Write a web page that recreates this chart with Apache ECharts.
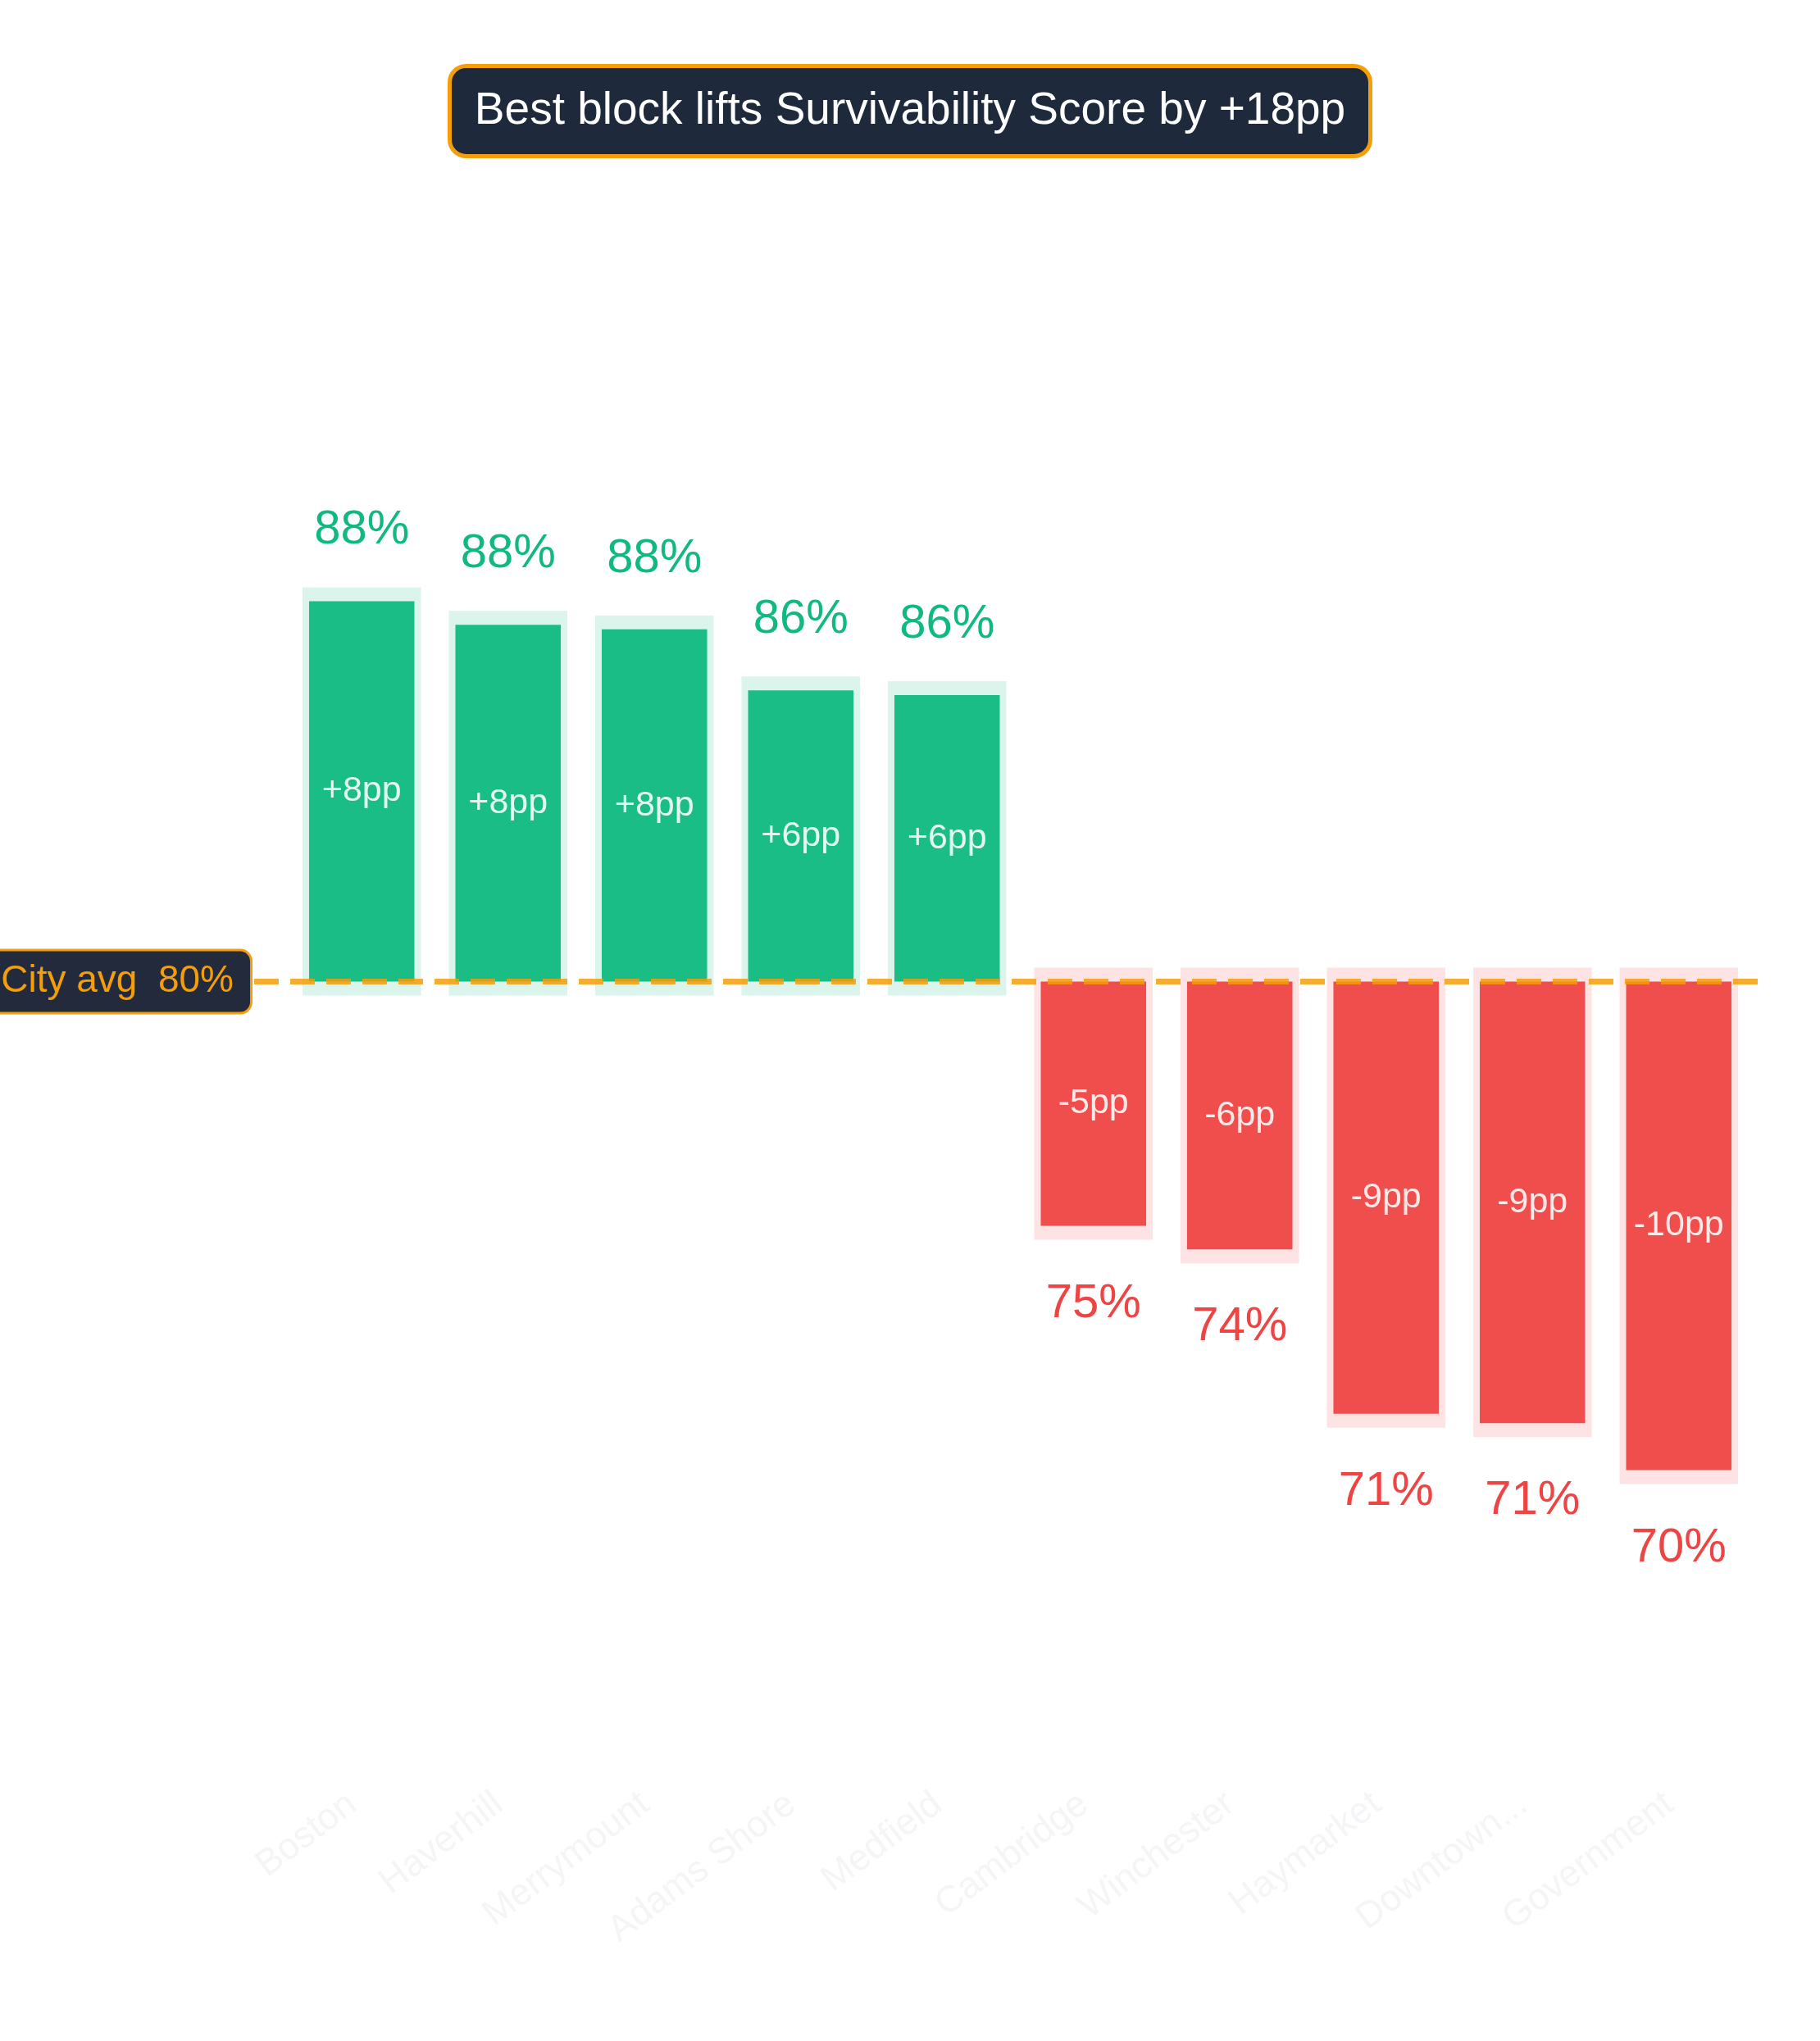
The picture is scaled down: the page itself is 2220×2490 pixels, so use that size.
<!DOCTYPE html>
<html>
<head>
<meta charset="utf-8">
<script src="https://cdn.jsdelivr.net/npm/echarts@6/dist/echarts.min.js"></script>
<style>
  html, body { margin: 0; padding: 0; background: #ffffff; }
  #chart { width: 2220px; height: 2490px; }
</style>
</head>
<body>
<div id="chart"></div>
<script>
// data
const blocks = ['Boston', 'Haverhill', 'Merrymount', 'Adams Shore', 'Medfield',
  'Cambridge', 'Winchester', 'Haymarket', 'Downtown Crossing', 'Government']
const scores = [88.1, 87.6, 87.5, 86.2, 86.1, 74.8, 74.3, 70.8, 70.6, 69.6]
const cityAvg = 80
const titleText = 'Best block lifts Survivability Score by +18pp'

const FONT = '"Liberation Sans", Arial, Helvetica, sans-serif'
const GREEN = '#10b981'
const RED = '#ef4444'
const ORANGE = '#f59e0b'

// bars are drawn as the gap to the city average
const deltas = scores.map(s => s - cityAvg)

const chart = echarts.init(document.getElementById('chart'))

const option = {
  backgroundColor: '#ffffff',
  title: {
    text: titleText,
    left: 'center',
    top: 80,
    padding: [28, 31],
    backgroundColor: '#1e293b',
    borderColor: ORANGE,
    borderWidth: 5,
    borderRadius: 20,
    textStyle: { color: '#ffffff', fontSize: 55, fontWeight: 'normal', fontFamily: FONT }
  },
  grid: { left: 352, right: 83, top: 298, bottom: 324 },
  xAxis: {
    type: 'category',
    data: blocks,
    axisLine: { show: false },
    axisTick: { show: false },
    axisLabel: {
      interval: 0,
      rotate: 37,
      margin: 22,
      padding: [0, 14, 0, 0],
      color: '#f4f5f7',
      fontSize: 45,
      fontFamily: FONT,
      formatter: v => v.length > 12 ? v.slice(0, 8) + '...' : v
    }
  },
  yAxis: { type: 'value', min: -16.9, max: 15.7, show: false, splitLine: { show: false } },
  series: [
    {
      // pale halo behind each bar plus the score label
      type: 'custom',
      z: 1,
      data: deltas,
      renderItem: (params, api) => {
        const d = api.value(1)
        const i = api.value(0)
        const band = api.size([1, 0])[0]
        const w = band * 0.72 + 16
        const base = api.coord([i, 0])
        const end = api.coord([i, d])
        const up = d >= 0
        const color = up ? GREEN : RED
        const y0 = up ? end[1] - 17 : base[1] - 17
        const y1 = up ? base[1] + 17 : end[1] + 17
        return {
          type: 'group',
          children: [
            {
              type: 'rect',
              shape: { x: base[0] - w / 2, y: y0, width: w, height: y1 - y0 },
              style: { fill: color, opacity: 0.15 }
            },
            {
              type: 'text',
              style: {
                text: Math.round(scores[params.dataIndex]) + '%',
                x: base[0],
                y: up ? end[1] - 86 : end[1] + 95,
                fill: color,
                font: '58px ' + FONT,
                align: 'center',
                verticalAlign: 'middle'
              }
            }
          ]
        }
      }
    },
    {
      type: 'bar',
      z: 2,
      barWidth: '72%',
      data: deltas.map(d => ({
        value: d,
        itemStyle: { color: d >= 0 ? GREEN : RED, opacity: 0.95 }
      })),
      label: {
        show: true,
        position: 'inside',
        color: 'rgba(255,255,255,0.92)',
        fontSize: 43,
        fontFamily: FONT,
        formatter: p => {
          const r = Math.round(p.value)
          return (r > 0 ? '+' : '') + r + 'pp'
        }
      },
      markLine: {
        silent: true,
        symbol: 'none',
        lineStyle: { color: 'rgba(245,158,11,0.85)', width: 7, type: [30, 14] },
        label: {
          show: true,
          position: 'start',
          distance: 5,
          formatter: 'City avg  ' + cityAvg + '%',
          color: ORANGE,
          fontSize: 46,
          fontFamily: FONT,
          backgroundColor: '#232a3b',
          borderColor: ORANGE,
          borderWidth: 3,
          borderRadius: 12,
          padding: [14, 20]
        },
        data: [[{ x: 310, yAxis: 0 }, { x: 2153, yAxis: 0 }]]
      }
    }
  ]
}

chart.setOption(option)
</script>
</body>
</html>
